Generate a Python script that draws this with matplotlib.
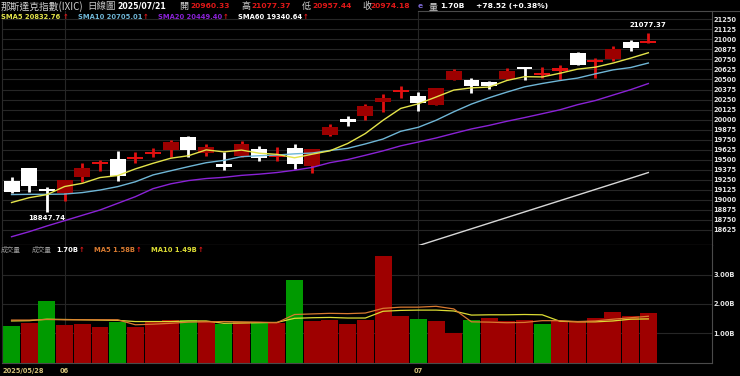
import numpy as np
import matplotlib
matplotlib.use('Agg')
import matplotlib.pyplot as plt
from matplotlib.patches import Rectangle
from matplotlib.lines import Line2D

# ---- data (Nasdaq Composite, daily, 2025/05/28 - 2025/07/21) ----
dates = ['2025/05/28', '05/29', '05/30',
         '06/02', '06/03', '06/04', '06/05', '06/06', '06/09', '06/10', '06/11', '06/12', '06/13',
         '06/16', '06/17', '06/18', '06/20', '06/23', '06/24', '06/25', '06/26', '06/27', '06/30',
         '07/01', '07/02', '07/03', '07/07', '07/08', '07/09', '07/10', '07/11', '07/14', '07/15',
         '07/16', '07/17', '07/18', '07/21']
opens = [19239, 19393, 19135, 19085, 19290, 19450, 19510, 19510, 19575, 19625, 19780, 19590, 19443,
         19550, 19630, 19530, 19643, 19426, 19810, 20005, 20040, 20225, 20345, 20290, 20185, 20495,
         20494, 20470, 20506, 20640, 20560, 20600, 20834, 20722, 20752, 20963, 20960.33]
highs = [19281, 19400, 19160, 19250, 19455, 19500, 19610, 19600, 19643, 19740, 19795, 19696, 19600,
         19733, 19671, 19663, 19696, 19640, 19945, 20049, 20190, 20319, 20423, 20348, 20400, 20631,
         20515, 20480, 20647, 20655, 20652, 20681, 20846, 20764, 20921, 20992, 21077.37]
lows = [19082, 19100, 18847.74, 18990, 19225, 19365, 19230, 19463, 19531, 19540, 19540, 19547, 19372,
        19540, 19484, 19488, 19381, 19339, 19800, 19924, 19995, 20099, 20266, 20111, 20180, 20490,
        20335, 20381, 20490, 20494, 20515, 20494, 20675, 20515, 20734, 20855, 20957.44]
closes = [19100.94, 19175.87, 19113.77, 19242.61, 19398.96, 19460.49, 19298.45, 19529.95, 19591.24,
          19714.99, 19615.88, 19662.49, 19406.83, 19701.21, 19521.09, 19546.27, 19447.41, 19630.97,
          19912.53, 19973.55, 20167.91, 20273.46, 20369.73, 20202.89, 20393.13, 20601.10, 20412.52,
          20418.46, 20611.34, 20630.67, 20585.53, 20640.33, 20677.80, 20730.49, 20885.65, 20895.66,
          20974.18]
prev_close = 19199.16

sma5 = [18967.14, 19027.78, 19065.39, 19166.47, 19206.43, 19278.34, 19302.86, 19386.09, 19455.82,
        19519.02, 19550.10, 19622.91, 19598.29, 19620.28, 19581.50, 19567.58, 19524.56, 19569.39,
        19611.65, 19702.15, 19826.47, 19991.68, 20139.44, 20197.51, 20281.42, 20368.06, 20395.87,
        20405.62, 20487.31, 20534.82, 20531.70, 20577.27, 20629.13, 20652.96, 20703.96, 20765.99,
        20832.76]
sma10 = [19066.41, 19069.32, 19069.46, 19072.61, 19090.96, 19122.74, 19165.32, 19225.74, 19311.15,
         19362.73, 19414.22, 19462.89, 19492.19, 19538.05, 19550.26, 19558.84, 19573.74, 19583.84,
         19615.97, 19641.83, 19697.03, 19758.12, 19854.42, 19904.58, 19991.79, 20097.27, 20193.78,
         20272.53, 20342.41, 20408.12, 20449.88, 20486.57, 20517.38, 20570.14, 20619.39, 20648.85,
         20705.01]
sma20 = [18541, 18604, 18675, 18741, 18808, 18874, 18957, 19040, 19140, 19200, 19240.32, 19266.11,
         19280.83, 19305.33, 19320.61, 19340.79, 19369.53, 19404.79, 19463.56, 19502.28, 19555.63,
         19610.51, 19673.31, 19721.32, 19771.03, 19828.06, 19883.76, 19928.19, 19979.19, 20024.98,
         20073.46, 20122.35, 20185.90, 20237.36, 20305.59, 20373.06, 20449.40]
sma60 = [None] * 22 + [18360, 18430, 18500, 18570, 18640, 18710, 18780, 18850, 18920, 18990, 19060,
                       19130, 19200, 19270, 19340.64]

volume = [1.26, 1.34, 2.10, 1.28, 1.33, 1.23, 1.37, 1.23, 1.41, 1.44, 1.44, 1.41, 1.30, 1.37, 1.36,
          1.34, 2.83, 1.41, 1.46, 1.30, 1.44, 3.65, 1.59, 1.48, 1.43, 1.00, 1.45, 1.52, 1.42, 1.45,
          1.33, 1.41, 1.41, 1.51, 1.74, 1.59, 1.70]  # billions
vol_ma5 = [1.45, 1.45, 1.47, 1.46, 1.46, 1.46, 1.46, 1.29, 1.31, 1.34, 1.38, 1.39, 1.40, 1.39, 1.38,
           1.36, 1.64, 1.66, 1.68, 1.67, 1.69, 1.85, 1.89, 1.89, 1.92, 1.83, 1.39, 1.38, 1.36, 1.37,
           1.43, 1.43, 1.40, 1.42, 1.48, 1.53, 1.58]
vol_ma10 = [1.42, 1.43, 1.48, 1.47, 1.46, 1.45, 1.44, 1.40, 1.40, 1.40, 1.42, 1.42, 1.34, 1.35, 1.36,
            1.37, 1.51, 1.53, 1.54, 1.52, 1.52, 1.75, 1.78, 1.79, 1.79, 1.76, 1.62, 1.63, 1.63, 1.64,
            1.63, 1.41, 1.39, 1.39, 1.42, 1.48, 1.49]

price_ticks = list(range(18625, 21251, 125))
vol_ticks = [1, 2, 3]
month_starts = {0: '2025/05/28', 3: '06', 23: '07'}

# ---- colours ----
BG = 'black'
GRID = '#262626'
UP_BODY = '#9c0000'
UP_WICK = '#e01010'
C_SMA5, C_SMA10, C_SMA20, C_SMA60 = '#e4e44a', '#6fb6d6', '#8a22d6', '#d8d8d8'
C_VMA5, C_VMA10 = '#d87a30', '#dcdc34'
RED_TXT = '#e01818'
CJK = ['Noto Sans CJK TC', 'DejaVu Sans']

plt.rcParams['font.family'] = ['DejaVu Sans', 'Noto Sans CJK TC']

W, H = 740, 376
fig = plt.figure(figsize=(W / 100, H / 100), dpi=100, facecolor=BG)


def fx(px):
    return px / W


def fy(py):
    return 1 - py / H


left, right = 2.35, 711.5
ax = fig.add_axes([fx(left), fy(245), (right - left) / W, (245 - 11) / H], facecolor=BG)
axv = fig.add_axes([fx(left), fy(362.6), (right - left) / W, (362.6 - 245) / H], facecolor=BG,
                   sharex=ax)

x = np.arange(len(closes))
ax.set_xlim(-0.52, 39.57)
ax.set_ylim(18438, 21353)
axv.set_ylim(0, 4.01)

# grid
ax.set_yticks(price_ticks)
ax.grid(axis='y', color=GRID, lw=0.8, zorder=0)
axv.set_yticks(vol_ticks)
axv.grid(axis='y', color=GRID, lw=0.8, zorder=0)
for i in month_starts:
    if i > 0:
        ax.axvline(i, color=GRID, lw=0.8, zorder=0)
        axv.axvline(i, color=GRID, lw=0.8, zorder=0)

# candles
for i in x:
    o, h, l, c = opens[i], highs[i], lows[i], closes[i]
    up = c >= o
    ax.vlines(i, l, h, color=UP_WICK if up else 'white', lw=2.0, zorder=2)
    body = abs(c - o)
    if up:
        face = UP_WICK if body < 45 else UP_BODY
    else:
        face = 'white'
    ax.add_patch(Rectangle((i - 0.45, min(o, c)), 0.9, max(body, 25),
                           facecolor=face, edgecolor='none', zorder=3))

# moving averages
ax.plot(x, sma60, color=C_SMA60, lw=1.0, zorder=4)
ax.plot(x, sma20, color=C_SMA20, lw=1.0, zorder=4)
ax.plot(x, sma10, color=C_SMA10, lw=1.0, zorder=4)
ax.plot(x, sma5, color=C_SMA5, lw=1.0, zorder=4)

# high / low labels
imax = int(np.argmax(highs))
imin = int(np.argmin(lows))
ax.annotate(f'{highs[imax]:.2f}', (imax, highs[imax]), xytext=(0, 4), textcoords='offset points',
            ha='center', va='bottom', color='white', fontsize=5, fontweight='bold')
ax.annotate(f'{lows[imin]:.2f}', (imin, lows[imin]), xytext=(0, -2), textcoords='offset points',
            ha='center', va='top', color='white', fontsize=5, fontweight='bold')

# volume
closes_prev = [prev_close] + closes[:-1]
vcols = ['#9e0000' if c >= p else '#009a00' for c, p in zip(closes, closes_prev)]
axv.bar(x, volume, width=0.96, color=vcols, zorder=2)
axv.plot(x, vol_ma10, color=C_VMA10, lw=0.9, zorder=3)
axv.plot(x, vol_ma5, color=C_VMA5, lw=0.9, zorder=3)

# axes styling
for a in (ax, axv):
    a.yaxis.tick_right()
    a.tick_params(axis='y', length=0, pad=1.5, labelsize=4.8, labelcolor='#e6e6e6')
    a.tick_params(axis='x', length=0, labelbottom=False)
    for s in a.spines.values():
        s.set_color('#4a4a4a')
        s.set_linewidth(0.8)
    a.spines['top'].set_visible(False)
    a.spines['left'].set_color('#2a2a2a')
ax.spines['bottom'].set_color('#9a8088')
ax.set_yticklabels([str(t) for t in price_ticks], fontweight='bold')
axv.set_yticklabels([f'{t:.2f}B' for t in vol_ticks], fontweight='bold')
axv.spines['top'].set_visible(False)

# date labels
for i, lab in month_starts.items():
    if i == 0:
        axv.text(i - 0.5, -0.07, lab, transform=axv.get_xaxis_transform(), ha='left', va='center',
                 color='#d4c27a', fontsize=4.8, fontweight='bold')
    else:
        axv.text(i, -0.07, lab, transform=axv.get_xaxis_transform(), ha='center', va='center',
                 color='#d4c27a', fontsize=4.8, fontweight='bold')

# header line 1
fig.add_artist(Line2D([fx(418), 1], [fy(11), fy(11)], color='#4a4a4a', lw=0.8))


def put(px, py, s, color, size=5.4, bold=True, family=None):
    kw = dict(color=color, fontsize=size, ha='left', va='center',
              fontweight='bold' if bold else 'normal')
    if family:
        kw['family'] = family
    fig.text(fx(px), fy(py), s, **kw)


y1 = 6.3
put(1, y1, '那斯達克指數(IXIC)', '#d0d0d0', size=7.0, bold=False, family=CJK)
put(87, y1, '日線圖', '#c8c8c8', size=6.8, bold=False, family=CJK)
put(117, y1, '2025/07/21', 'white', size=5.6)
put(179, y1, '開', '#d0d0d0', size=6.5, bold=False, family=CJK)
put(190, y1, f'{opens[-1]:.2f}', RED_TXT)
put(241, y1, '高', '#d0d0d0', size=6.5, bold=False, family=CJK)
put(251, y1, f'{highs[-1]:.2f}', RED_TXT)
put(302, y1, '低', '#d0d0d0', size=6.5, bold=False, family=CJK)
put(312, y1, f'{lows[-1]:.2f}', RED_TXT)
put(362, y1, '收', '#d0d0d0', size=6.5, bold=False, family=CJK)
put(370, y1, f'{closes[-1]:.2f}', RED_TXT)
put(418, y1, 'e', '#7a66d0')
put(429, y1, '量', '#d0d0d0', size=6.5, bold=False, family=CJK)
put(440, y1, f'{volume[-1]:.2f}B', 'white')
chg = closes[-1] - closes[-2]
put(476, y1, f'+{chg:.2f} (+{chg / closes[-2] * 100:.2f}%)', 'white')

# header line 2 (price MAs)
y2 = 17
for px, lab, val, col, apx in [(1, 'SMA5', sma5[-1], C_SMA5, 63),
                                (78, 'SMA10', sma10[-1], C_SMA10, 143),
                                (158, 'SMA20', sma20[-1], C_SMA20, 223),
                                (238, 'SMA60', sma60[-1], 'white', 303)]:
    put(px, y2, f'{lab} {val:.2f}', col, size=4.9)
    put(apx, y2, '↑', RED_TXT, size=4.9)

# volume header
y3 = 250.3
put(1, y3, '成交量', '#9a9a9a', size=4.8, bold=False, family=CJK)
put(32, y3, '成交量', '#9a9a9a', size=4.8, bold=False, family=CJK)
put(56, y3, f'{volume[-1]:.2f}B', 'white', size=4.9)
put(79, y3, '↑', RED_TXT, size=4.9)
put(94, y3, f'MA5 {vol_ma5[-1]:.2f}B', C_VMA5, size=4.9)
put(136, y3, '↑', RED_TXT, size=4.9)
put(151, y3, f'MA10 {vol_ma10[-1]:.2f}B', C_VMA10, size=4.9)
put(198, y3, '↑', RED_TXT, size=4.9)

fig.savefig('out.png', dpi=100, facecolor=BG)
